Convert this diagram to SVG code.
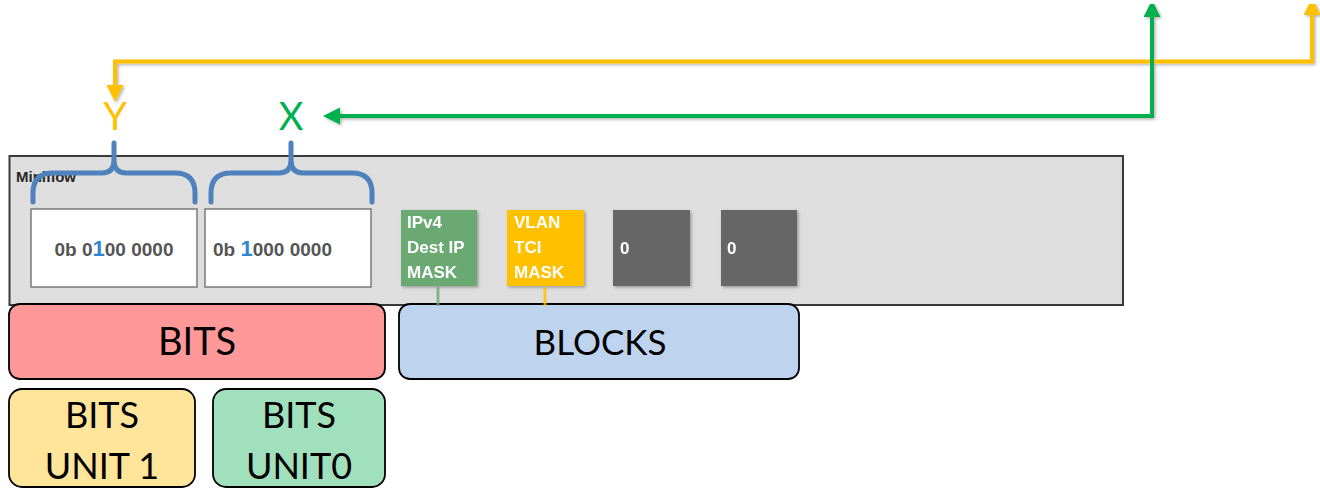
<svg xmlns="http://www.w3.org/2000/svg" width="1320" height="489" viewBox="0 0 1320 489">
<defs>
<marker id="ah-o" markerUnits="userSpaceOnUse" markerWidth="18" markerHeight="18" refX="0" refY="8.5" orient="auto-start-reverse"><path d="M0,0 L17,8.5 L0,17 z" fill="#ffc000"/></marker>
<marker id="ah-g" markerUnits="userSpaceOnUse" markerWidth="18" markerHeight="18" refX="0" refY="8.5" orient="auto-start-reverse"><path d="M0,0 L17,8.5 L0,17 z" fill="#00b050"/></marker>
<filter id="sh" x="-10%" y="-10%" width="130%" height="130%"><feDropShadow dx="1.5" dy="1.5" stdDeviation="1.5" flood-color="#000" flood-opacity="0.3"/></filter>
</defs>
<style>
.big{font-family:Lato,"Liberation Sans",sans-serif;fill:#000;text-anchor:middle}
.bin{font-family:"Liberation Sans",Arial,sans-serif;font-weight:bold;font-size:19px;fill:#555}
.one{fill:#2e86d0;font-size:22px}
.blk{font-family:"Liberation Sans",Arial,sans-serif;font-weight:bold;font-size:17px;fill:#fff}
.brace{fill:none;stroke:#4f81bd;stroke-width:5;stroke-linecap:round;stroke-linejoin:round}
.rbox{stroke:#000;stroke-width:1.8}
</style>
<g id="miniflow">
<rect x="9.5" y="156" width="1113.5" height="149" fill="#dedede" stroke="#3a3a3a" stroke-width="2"/>
<text x="16" y="182" font-family="'Liberation Sans',Arial,sans-serif" font-weight="bold" font-size="15" fill="#262626">Miniflow</text>
</g>
<g id="bits-unit1-value">
<rect x="31" y="209" width="166" height="78" fill="#fff" stroke="#7a7a7a" stroke-width="1.5"/>
<text class="bin" x="114" y="256" text-anchor="middle">0b 0<tspan class="one">1</tspan>00 0000</text>
</g>
<g id="bits-unit0-value">
<rect x="205" y="209" width="166" height="78" fill="#fff" stroke="#7a7a7a" stroke-width="1.5"/>
<text class="bin" x="213" y="256">0b <tspan class="one">1</tspan>000 0000</text>
</g>
<g id="block-ipv4" filter="url(#sh)">
<rect x="401" y="210" width="76" height="76" fill="#6aaa72"/>
<text class="blk" x="407" y="228">IPv4</text>
<text class="blk" x="407" y="253">Dest IP</text>
<text class="blk" x="407" y="278">MASK</text>
</g>
<g id="block-vlan" filter="url(#sh)">
<rect x="507" y="210" width="77" height="76" fill="#ffc000"/>
<text class="blk" x="514" y="228">VLAN</text>
<text class="blk" x="514" y="253">TCI</text>
<text class="blk" x="514" y="278">MASK</text>
</g>
<g id="block-0a" filter="url(#sh)">
<rect x="613" y="210" width="77" height="76" fill="#666"/>
<text class="blk" x="620" y="254">0</text>
</g>
<g id="block-0b" filter="url(#sh)">
<rect x="721" y="210" width="76" height="76" fill="#666"/>
<text class="blk" x="727" y="254">0</text>
</g>
<g id="bits">
<rect class="rbox" x="9" y="304" width="376" height="75" rx="11" fill="#ff9999"/>
<text class="big" x="197" y="355" font-size="38">BITS</text>
</g>
<g id="blocks">
<rect class="rbox" x="399" y="304" width="400" height="75" rx="11" fill="#bed3ee"/>
<text class="big" x="600" y="355" font-size="35">BLOCKS</text>
</g>
<g id="bits-unit1">
<rect class="rbox" x="9" y="389" width="186" height="98" rx="13" fill="#ffe599"/>
<text class="big" x="102" y="428" font-size="36">BITS</text>
<text class="big" x="102" y="479" font-size="36">UNIT 1</text>
</g>
<g id="bits-unit0">
<rect class="rbox" x="213" y="389" width="172" height="98" rx="13" fill="#a0e0bc"/>
<text class="big" x="299" y="428" font-size="36">BITS</text>
<text class="big" x="299" y="479" font-size="36">UNIT0</text>
</g>
<g id="label-y"><text x="115" y="130" font-family="Lato,'Liberation Sans',sans-serif" font-size="38" fill="#ffc000" text-anchor="middle">Y</text></g>
<g id="label-x"><text x="291" y="130" font-family="Lato,'Liberation Sans',sans-serif" font-size="38" fill="#00b050" text-anchor="middle">X</text></g>
<g id="connectors">
<path class="brace" d="M33,202 V193 Q33,173 53,173 H102 Q114,173 114,160 V143 M114,160 Q114,173 126,173 H175 Q195,173 195,193 V202"/>
<path class="brace" d="M211,202 V193 Q211,173 231,173 H279 Q291,173 291,160 V143 M291,160 Q291,173 303,173 H352 Q372,173 372,193 V202"/>
<path d="M438,287 V306" stroke="#6aaa72" stroke-width="3" opacity="0.8"/>
<path d="M545,287 V306" stroke="#ffc000" stroke-width="3" opacity="0.8"/>
<g filter="url(#sh)">
<path d="M115,85 V61.5 H1312 V15" fill="none" stroke="#ffc000" stroke-width="4" marker-start="url(#ah-o)" marker-end="url(#ah-o)"/>
<path d="M340,116 H1152 V17" fill="none" stroke="#00b050" stroke-width="4" marker-start="url(#ah-g)" marker-end="url(#ah-g)"/>
</g>
</g>
</svg>
